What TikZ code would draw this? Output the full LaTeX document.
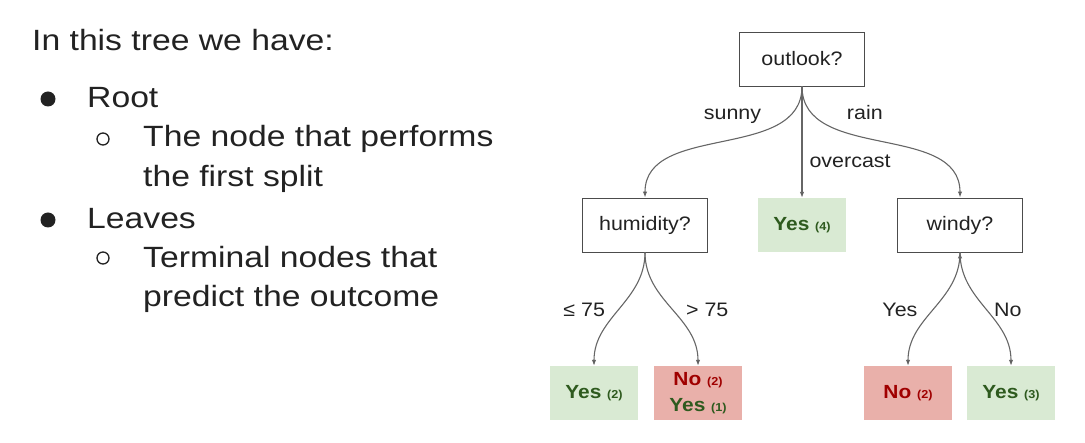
\documentclass[tikz,border=0pt]{standalone}
\usepackage{fontspec}
\setmainfont[FakeStretch=1.15]{Liberation Sans}
\newfontfamily\treefont[FakeStretch=1.1]{Liberation Sans}
\usetikzlibrary{positioning,arrows.meta}
\definecolor{ink}{HTML}{222222}
\definecolor{wire}{HTML}{666666}
\definecolor{leafgreen}{HTML}{D9EAD3}
\definecolor{leafred}{HTML}{E9B0AA}
\definecolor{yesgreen}{HTML}{2E5A1E}
\definecolor{nored}{HTML}{A00000}
\newcommand\tally[1]{{\fontsize{11.5}{13}\selectfont #1}}

\begin{document}
\begin{tikzpicture}[x=1pt,y=-1pt,node distance=166pt,on grid,
    line/.style={anchor=base west,inner sep=0pt,text=ink,font=\fontsize{29.3}{35}\selectfont},
    dot/.style={circle,fill=ink,inner sep=0pt,minimum size=15pt},
    ring/.style={circle,draw=ink,line width=1.3pt,inner sep=0pt,minimum size=12pt},
    split/.style={draw=black!70,line width=0.9pt,minimum width=125pt,minimum height=54pt,
        text=ink,font=\treefont\fontsize{19.5}{23}\selectfont},
    leaf/.style={minimum width=88pt,minimum height=54pt,align=center,
        font=\treefont\bfseries\fontsize{19}{26}\selectfont},
    yesleaf/.style={leaf,fill=leafgreen,text=yesgreen},
    noleaf/.style={leaf,fill=leafred,text=nored},
    branch/.style={draw=wire,line width=1.1pt,-{Latex[length=6pt,width=4.5pt]}},
    lbl/.style={inner sep=0pt,text=ink,font=\treefont\fontsize{19.5}{23}\selectfont}]
\useasboundingbox (0,0) rectangle (1085,443);

% left column
\node[line] (head) at (32,51) {In this tree we have:};
\node[dot] (b1) at (48,99) {};
\node[line] (root) at (87,108) {Root};
\node[ring] (c1) at (103,139) {};
\node[line] (rootA) at (143,147) {The node that performs};
\node[line] (rootB) at (143,187) {the first split};
\node[dot] (b2) at (48,220) {};
\node[line] (leaves) at (87,229) {Leaves};
\node[ring] (c2) at (103,258) {};
\node[line] (leavesA) at (143,268) {Terminal nodes that};
\node[line] (leavesB) at (143,307) {predict the outcome};

% tree
\node[split] (outlook) at (802,59) {outlook?};
\node[split] (humidity) [below left=166pt and 157pt of outlook] {humidity?};
\node[yesleaf] (over) [below=166pt of outlook] {Yes \tally{(4)}};
\node[split] (windy) [below right=166pt and 158pt of outlook] {windy?};
\node[yesleaf] (hlow) [below left=168pt and 51pt of humidity] {Yes \tally{(2)}};
\node[noleaf] (hhigh) [below right=168pt and 53pt of humidity]
    {No \tally{(2)}\\\textcolor{yesgreen}{Yes \tally{(1)}}};
\node[noleaf] (wyes) [below left=168pt and 52pt of windy] {No \tally{(2)}};
\node[yesleaf] (wno) [below right=168pt and 51pt of windy] {Yes \tally{(3)}};

\path[branch]
    (outlook.south) edge[out=-90,in=90] node[lbl,pos=0.2,anchor=base east,xshift=-24pt]{sunny} (humidity.north)
    (outlook.south) edge node[lbl,pos=0.73,anchor=base west,xshift=7pt]{overcast} (over.north)
    (outlook.south) edge[out=-90,in=90] node[lbl,pos=0.2,anchor=base west,xshift=28pt]{rain} (windy.north)
    (humidity.south) edge[out=-90,in=90] node[lbl,pos=0.5,anchor=base east,xshift=-14pt,yshift=-7pt]{≤ 75} (hlow.north)
    (humidity.south) edge[out=-90,in=90] node[lbl,pos=0.5,anchor=base west,xshift=14pt,yshift=-7pt]{> 75} (hhigh.north)
    (windy.south) edge[out=-90,in=90] node[lbl,pos=0.5,anchor=base east,xshift=-16pt,yshift=-7pt]{Yes} (wyes.north)
    (windy.south) edge[out=-90,in=90] node[lbl,pos=0.5,anchor=base west,xshift=8pt,yshift=-7pt]{No} (wno.north);
\end{tikzpicture}
\end{document}
